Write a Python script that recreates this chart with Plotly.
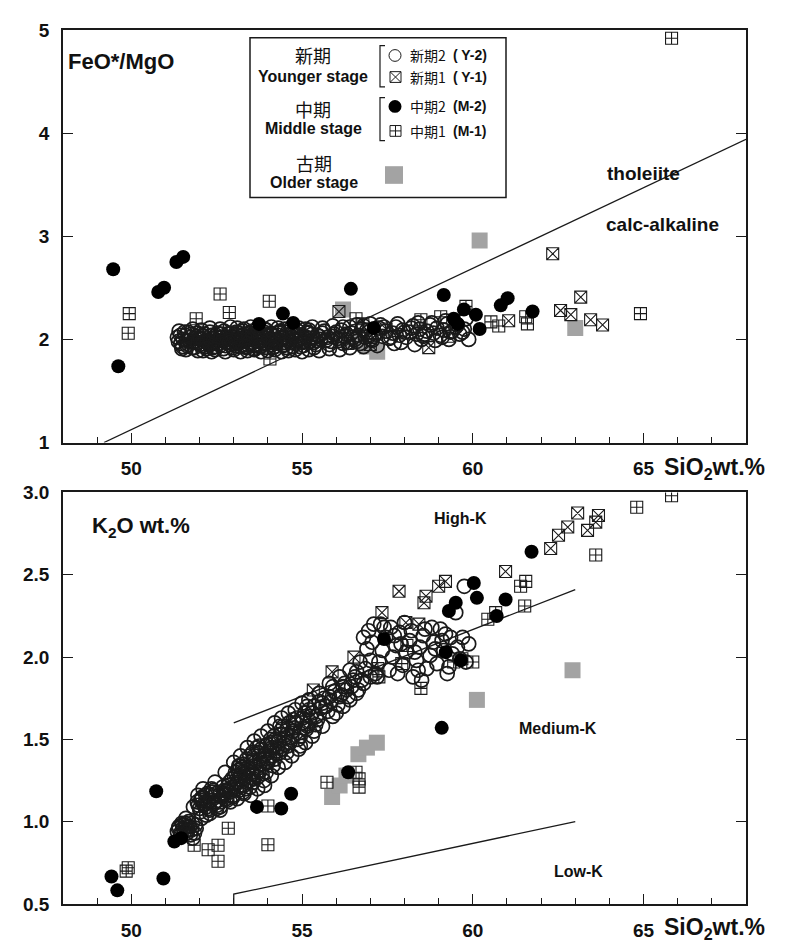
import plotly.graph_objects as go

# ---------------- DATA ----------------
# Younger stage 2 (Y-2), open circles: same samples in both panels
Y2_SIO2 = [51.35, 51.40, 51.45, 51.52, 51.58, 51.63, 51.70, 51.76, 51.82, 51.88,
           51.93, 52.00, 52.05, 52.12, 52.18, 52.25, 52.30, 52.36, 52.42, 52.48,
           52.55, 52.60, 52.66, 52.72, 52.78, 52.84, 52.90, 52.95, 53.00, 53.05,
           53.10, 53.15, 53.20, 53.25, 53.30, 53.35, 53.40, 53.45, 53.50, 53.55,
           53.60, 53.65, 53.70, 53.75, 53.80, 53.86, 53.92, 53.98, 54.05, 54.12,
           54.18, 54.25, 54.32, 54.40, 54.48, 54.55, 54.62, 54.70, 54.78, 54.85,
           54.92, 55.00, 55.08, 55.16, 55.25, 55.35, 55.45, 55.55, 55.65, 55.75,
           55.85, 55.95, 56.05, 56.15, 56.25, 56.35, 56.45, 56.55, 56.65, 56.75,
           56.85, 56.95, 57.05, 57.15, 57.25, 57.35, 57.45, 57.55, 57.65, 57.75,
           57.85, 57.95, 58.05, 58.15, 58.25, 58.35, 58.45, 58.55, 58.65, 58.75,
           58.85, 58.95, 59.05, 59.15, 59.25, 59.35, 59.50, 59.62, 59.75, 59.88,
           51.48, 51.66, 51.85, 52.03, 52.20, 52.38, 52.52, 52.70, 52.82, 52.98,
           53.08, 53.18, 53.28, 53.38, 53.48, 53.58, 53.68, 53.78, 53.88, 53.96,
           54.08, 54.20, 54.35, 54.45, 54.58, 54.72, 54.88, 55.05, 55.20, 55.40,
           55.60, 55.80, 56.00, 56.20, 56.40, 56.60, 56.80, 57.00, 57.30, 57.60,
           57.90, 58.20, 58.50, 58.80, 59.10, 59.40,
           51.38, 51.44, 51.50, 51.56, 51.61, 51.68, 51.73, 51.79, 51.90, 51.96,
           52.02, 52.08, 52.15, 52.22, 52.28, 52.34, 52.40, 52.46, 52.50, 52.57,
           52.63, 52.68, 52.75, 52.80, 52.87, 52.92, 52.97, 53.02, 53.07, 53.12,
           53.17, 53.22, 53.27, 53.32, 53.37, 53.42, 53.47, 53.52, 53.57, 53.62,
           53.67, 53.72, 53.77, 53.83, 53.89, 53.94, 54.00, 54.06, 54.10, 54.15,
           54.22, 54.28, 54.36, 54.42, 54.50, 54.58, 54.65, 54.75, 54.82, 54.95,
           55.02, 55.12, 55.22, 55.30, 55.42, 55.50, 55.70, 55.90, 56.10, 56.30,
           56.50, 56.70, 56.90, 57.10, 57.20, 57.40, 57.70, 57.80, 58.00, 58.30,
           58.40, 58.60, 58.90, 59.20, 59.30, 59.55, 59.70, 59.80,
           52.10, 52.30, 52.45, 52.60, 52.75, 52.90, 53.00, 53.10, 53.20, 53.30,
           53.40, 53.50, 53.60, 53.70, 53.80, 53.90, 54.00, 54.10, 54.20, 54.30,
           54.40, 54.50, 54.60, 54.70, 54.80, 54.90, 55.00, 55.10, 55.20, 55.30,
           55.50, 55.60, 55.80, 55.90, 56.10, 56.20, 56.40, 56.60, 56.80, 57.00,
           51.60, 51.80, 51.95, 52.05, 52.20, 52.35, 53.15, 53.35, 53.55, 53.75,
           53.95, 54.15, 54.35, 54.55, 54.75, 54.95, 55.15, 55.35]
Y2_FEO_MGO = [2.02, 2.08, 1.96, 2.00, 2.04, 1.94, 1.99, 2.05, 1.97, 2.01,
              2.06, 1.95, 2.00, 2.03, 1.93, 1.98, 2.07, 2.01, 1.96, 2.04,
              1.99, 1.94, 2.02, 2.08, 1.97, 2.00, 1.95, 2.03, 1.99, 2.05,
              1.96, 2.01, 1.93, 2.04, 1.98, 2.02, 1.95, 2.06, 2.00, 1.97,
              2.03, 1.94, 2.01, 2.07, 1.98, 2.02, 1.96, 2.04, 2.00, 1.95,
              2.03, 1.98, 2.06, 2.01, 1.97, 2.04, 1.99, 2.02, 1.96, 2.05,
              2.00, 2.03, 1.98, 2.06, 2.01, 1.97, 2.04, 2.00, 2.08, 2.02,
              1.98, 2.05, 2.01, 2.09, 2.03, 1.97, 2.06, 2.00, 2.04, 2.10,
              2.02, 2.07, 1.99, 2.05, 2.11, 2.03, 2.08, 2.01, 2.06, 2.12,
              2.04, 2.09, 2.02, 2.07, 2.13, 2.05, 2.10, 2.03, 2.08, 2.14,
              2.06, 2.11, 2.04, 2.09, 2.15, 2.07, 2.12, 2.05, 2.10, 2.00,
              1.91, 2.07, 1.92, 2.05, 1.97, 1.92, 2.06, 1.91, 2.05, 1.92,
              2.07, 1.98, 2.08, 1.92, 2.03, 1.91, 2.05, 1.93, 2.07, 1.92,
              2.06, 1.93, 2.08, 1.94, 2.07, 1.93, 2.08, 1.94, 2.09, 1.95,
              2.06, 1.95, 2.07, 1.96, 2.12, 1.98, 2.13, 2.00, 2.14, 2.02,
              1.97, 2.11, 2.00, 2.16, 2.02, 2.08,
              1.98, 2.04, 1.93, 2.07, 1.99, 1.95, 2.02, 1.92, 2.03, 1.97,
              2.01, 1.94, 2.05, 1.99, 1.95, 2.04, 1.98, 1.93, 2.02, 1.96,
              2.05, 1.99, 1.94, 2.02, 1.97, 2.06, 1.96, 2.02, 1.94, 2.04,
              1.97, 2.00, 1.95, 2.05, 1.99, 2.03, 1.96, 2.01, 1.94, 2.05,
              1.98, 2.02, 1.95, 2.04, 1.99, 1.96, 2.03, 1.97, 2.05, 2.00,
              1.96, 2.04, 1.99, 2.02, 1.95, 2.01, 1.97, 2.05, 1.99, 2.04,
              1.97, 2.02, 1.98, 2.05, 1.99, 2.03, 1.99, 2.03, 1.99, 2.05,
              2.02, 1.96, 2.09, 2.03, 1.94, 2.12, 1.96, 2.15, 2.07, 1.95,
              2.16, 2.05, 1.99, 2.18, 2.00, 2.14, 2.07, 2.20,
              1.89, 2.11, 1.90, 2.10, 1.88, 2.12, 1.90, 2.11, 1.88, 2.10,
              1.89, 2.12, 1.90, 2.11, 1.88, 2.10, 1.89, 2.12, 1.90, 2.11,
              1.88, 2.10, 1.89, 2.12, 1.90, 2.11, 1.88, 2.10, 1.90, 2.12,
              1.89, 2.11, 1.91, 2.13, 1.90, 2.12, 1.92, 2.14, 1.93, 2.15,
              1.90, 2.10, 1.89, 2.09, 1.91, 1.88, 2.06, 1.93, 2.08, 1.93,
              2.09, 1.92, 2.07, 1.92, 2.08, 1.93, 2.07, 1.92]
Y2_K2O = [0.94, 0.97, 0.92, 0.96, 0.99, 0.93, 0.97, 0.95, 1.09, 0.98,
          1.12, 1.08, 1.14, 1.10, 1.16, 1.12, 1.07, 1.15, 1.11, 1.17,
          1.13, 1.09, 1.15, 1.19, 1.14, 1.22, 1.18, 1.26, 1.21, 1.30,
          1.24, 1.19, 1.28, 1.33, 1.22, 1.27, 1.31, 1.25, 1.36, 1.29,
          1.40, 1.33, 1.27, 1.38, 1.44, 1.35, 1.41, 1.47, 1.39, 1.45,
          1.52, 1.43, 1.49, 1.56, 1.47, 1.53, 1.60, 1.51, 1.57, 1.63,
          1.54, 1.60, 1.66, 1.58, 1.64, 1.70, 1.62, 1.69, 1.75, 1.67,
          1.73, 1.79, 1.71, 1.77, 1.84, 1.76, 1.82, 1.88, 1.80, 1.86,
          1.93, 2.16, 2.09, 1.90, 1.97, 2.04, 2.12, 1.92, 2.00, 2.07,
          2.15, 1.95, 2.03, 2.10, 1.88, 1.98, 2.06, 2.13, 1.93, 2.01,
          2.09, 1.96, 2.17, 2.04, 1.90, 2.12, 2.27, 1.99, 2.43, 2.08,
          0.99, 0.95, 0.93, 1.13, 1.09, 1.18, 1.10, 1.16, 1.19, 1.15,
          1.20, 1.34, 1.18, 1.38, 1.21, 1.26, 1.45, 1.31, 1.25, 1.36,
          1.50, 1.38, 1.42, 1.58, 1.46, 1.55, 1.50, 1.57, 1.68, 1.59,
          1.72, 1.76, 1.66, 1.82, 1.74, 1.91, 1.84, 1.98, 2.20, 2.18,
          2.08, 2.16, 1.86, 2.18, 2.10, 2.02,
          0.96, 0.93, 0.98, 0.94, 0.97, 1.00, 0.92, 0.99, 0.96, 1.10,
          1.06, 1.15, 1.11, 1.17, 1.08, 1.13, 1.19, 1.12, 1.08, 1.16,
          1.12, 1.21, 1.17, 1.13, 1.24, 1.20, 1.16, 1.27, 1.23, 1.31,
          1.26, 1.22, 1.35, 1.29, 1.24, 1.33, 1.40, 1.30, 1.24, 1.36,
          1.30, 1.42, 1.35, 1.29, 1.40, 1.46, 1.36, 1.43, 1.48, 1.40,
          1.50, 1.45, 1.53, 1.44, 1.51, 1.57, 1.48, 1.55, 1.60, 1.52,
          1.63, 1.56, 1.61, 1.66, 1.64, 1.73, 1.70, 1.82, 1.76, 1.80,
          1.86, 1.97, 2.05, 2.20, 1.88, 2.18, 2.13, 1.90, 2.21, 2.03,
          1.92, 2.17, 2.05, 2.14, 1.94, 2.06, 2.12, 1.97,
          1.20, 1.05, 1.24, 1.07, 1.30, 1.12, 1.36, 1.14, 1.40, 1.17,
          1.45, 1.16, 1.49, 1.20, 1.52, 1.22, 1.55, 1.28, 1.60, 1.33,
          1.63, 1.36, 1.66, 1.40, 1.68, 1.44, 1.72, 1.48, 1.74, 1.52,
          1.78, 1.58, 1.84, 1.64, 1.88, 1.70, 1.92, 1.78, 2.12, 1.88,
          1.02, 0.90, 1.16, 1.02, 1.04, 1.20, 1.34, 1.20, 1.42, 1.46,
          1.30, 1.34, 1.58, 1.42, 1.62, 1.46, 1.70, 1.55]

# Younger stage 1 (Y-1), square with x
Y1_SIO2_TOP = [56.08, 56.35, 57.00, 57.46, 58.71, 59.30, 61.05, 62.34, 62.57, 62.87,
               63.16, 63.45, 63.80]
Y1_FEO_MGO = [2.27, 1.96, 1.95, 2.10, 1.92, 2.03, 2.18, 2.83, 2.28, 2.24,
              2.41, 2.19, 2.14]
Y1_SIO2_BOT = [55.33, 55.88, 56.52, 57.34, 57.84, 58.04, 58.42, 58.57, 58.63, 59.00,
               59.20, 60.96, 62.28, 62.51, 62.78, 63.07, 63.36, 63.60, 63.68]
Y1_K2O = [1.80, 1.91, 2.00, 2.27, 2.40, 2.21, 2.20, 2.33, 2.37, 2.43,
          2.46, 2.52, 2.66, 2.74, 2.79, 2.875, 2.77, 2.82, 2.86]

# Middle stage 2 (M-2), filled circles
M2_SIO2_TOP = [49.47, 49.62, 50.79, 50.96, 51.32, 51.52, 53.74, 54.44, 54.74, 56.43,
               57.10, 59.15, 59.44, 59.56, 59.74, 60.09, 60.20, 60.82, 61.02, 61.75]
M2_FEO_MGO = [2.68, 1.74, 2.46, 2.50, 2.75, 2.80, 2.15, 2.25, 2.16, 2.49,
              2.11, 2.43, 2.20, 2.15, 2.29, 2.24, 2.10, 2.33, 2.40, 2.27]
M2_SIO2_BOT = [49.42, 49.59, 50.73, 50.94, 51.26, 51.46, 53.68, 54.39, 54.68, 56.35,
               57.40, 59.09, 59.21, 59.30, 59.50, 59.65, 60.03, 60.12, 60.70, 60.96,
               61.72]
M2_K2O = [0.667, 0.583, 1.185, 0.655, 0.88, 0.90, 1.09, 1.08, 1.17, 1.30,
          2.11, 1.57, 2.03, 2.28, 2.33, 1.98, 2.45, 2.36, 2.25, 2.35,
          2.64]

# Middle stage 1 (M-1), square with cross
M1_SIO2_TOP = [49.91, 49.94, 51.90, 52.60, 52.87, 54.04, 54.06, 56.58, 56.78, 58.48,
               59.06, 59.80, 60.53, 60.76, 61.55, 61.60, 64.91, 65.82]
M1_FEO_MGO = [2.06, 2.25, 2.20, 2.44, 2.26, 2.37, 1.81, 2.20, 2.15, 2.19,
              2.22, 2.32, 2.17, 2.13, 2.22, 2.15, 2.25, 4.92]
M1_SIO2_BOT = [49.85, 49.91, 51.84, 52.25, 52.54, 52.54, 52.84, 54.00, 54.00, 55.73,
               56.58, 56.67, 56.67, 57.22, 57.25, 57.92, 58.07, 58.48, 59.44, 59.68,
               60.00, 60.44, 60.67, 61.40, 61.52, 61.55, 63.60, 64.80, 65.82]
M1_K2O = [0.70, 0.72, 0.857, 0.83, 0.857, 0.76, 0.96, 1.095, 0.86, 1.24,
          1.30, 1.26, 1.21, 1.93, 1.88, 1.96, 2.07, 1.81, 1.97, 1.99,
          1.97, 2.23, 2.27, 2.43, 2.31, 2.46, 2.62, 2.91, 2.98]

# Older stage, grey squares
OLD_SIO2_TOP = [56.20, 56.50, 56.90, 57.20, 60.20, 63.00]
OLD_FEO_MGO = [2.29, 2.00, 1.93, 1.88, 2.96, 2.11]
OLD_SIO2_BOT = [55.88, 56.10, 56.30, 56.65, 56.90, 57.19, 60.12, 62.92]
OLD_K2O = [1.15, 1.22, 1.28, 1.41, 1.45, 1.48, 1.74, 1.92]

# Boundary lines
THOL_X = [49.2, 68.0]
THOL_Y = [1.0, 3.94]
HIGHK_X = [53.0, 63.0]
HIGHK_Y = [1.6, 2.41]
LOWK_X = [53.0, 53.0, 63.0]
LOWK_Y = [0.5, 0.56, 1.0]

X_TICKS = [50, 55, 60, 65]

# ---------------- FIGURE ----------------
W, H = 786, 945
L, R, T, B = 55, 738, 14, 906


def px(x):
    return (x - L) / (R - L)


def py(y):
    return (B - y) / (B - T)


FONT = "Liberation Sans, Arial, Helvetica, sans-serif"
CJK = "Noto Sans CJK JP, Noto Sans CJK SC, sans-serif"
INK = "#1a1a1a"
GREY = "#a3a3a3"

fig = go.Figure()

MK = dict(
    old=dict(symbol="square", size=16, color=GREY, line=dict(width=0)),
    y2=dict(symbol="circle-open", size=14, color=INK, line=dict(width=1.7, color=INK)),
    y1=dict(symbol="square-x-open", size=12, color=INK, line=dict(width=1.1, color=INK)),
    m1=dict(symbol="square-cross-open", size=12, color=INK, line=dict(width=1.1, color=INK)),
    m2=dict(symbol="circle", size=14, color="black", line=dict(width=0)),
)


def add_panel(xa, ya, old, y2, y1, m1, m2):
    for (xs, ys), key in [(old, "old"), (y2, "y2"), (y1, "y1"), (m1, "m1"), (m2, "m2")]:
        fig.add_trace(go.Scatter(x=xs, y=ys, mode="markers", marker=MK[key],
                                 xaxis=xa, yaxis=ya, showlegend=False, hoverinfo="x+y"))


# top panel
fig.add_trace(go.Scatter(x=THOL_X, y=THOL_Y, mode="lines", line=dict(color=INK, width=1.3),
                         xaxis="x", yaxis="y", showlegend=False))
add_panel("x", "y",
          (OLD_SIO2_TOP, OLD_FEO_MGO), (Y2_SIO2, Y2_FEO_MGO), (Y1_SIO2_TOP, Y1_FEO_MGO),
          (M1_SIO2_TOP, M1_FEO_MGO), (M2_SIO2_TOP, M2_FEO_MGO))

# bottom panel
for lx, ly in [(HIGHK_X, HIGHK_Y), (LOWK_X, LOWK_Y)]:
    fig.add_trace(go.Scatter(x=lx, y=ly, mode="lines", line=dict(color=INK, width=1.3),
                             xaxis="x2", yaxis="y2", showlegend=False))
add_panel("x2", "y2",
          (OLD_SIO2_BOT, OLD_K2O), (Y2_SIO2, Y2_K2O), (Y1_SIO2_BOT, Y1_K2O),
          (M1_SIO2_BOT, M1_K2O), (M2_SIO2_BOT, M2_K2O))

tickfont = dict(family=FONT, size=19, color="#111", weight="bold")
xcommon = dict(range=[48, 68], tickvals=X_TICKS, ticks="inside", ticklen=10, tickwidth=1.2,
               tickcolor=INK, showline=True, linecolor=INK, linewidth=1.6, mirror=True,
               showgrid=False, zeroline=False, tickfont=tickfont, ticklabelstandoff=8,
               minor=dict(dtick=1, tick0=48, ticks="inside", ticklen=6, tickcolor=INK, tickwidth=1))
ycommon = dict(ticks="inside", ticklen=10, tickwidth=1.2, tickcolor=INK, showline=True,
               linecolor=INK, linewidth=1.6, mirror="ticks", showgrid=False, zeroline=False,
               tickfont=tickfont, ticklabelstandoff=8)

top_dom = [py(435), 1.0]
bot_dom = [0.0, py(486)]

fig.update_layout(
    width=W, height=H,
    margin=dict(l=L, r=W - R, t=T, b=H - B),
    paper_bgcolor="white", plot_bgcolor="white",
    xaxis=dict(domain=[0, 1], anchor="y", **xcommon),
    yaxis=dict(domain=top_dom, anchor="x", range=[1, 5], dtick=1, **ycommon),
    xaxis2=dict(domain=[0, 1], anchor="y2", **xcommon),
    yaxis2=dict(domain=bot_dom, anchor="x2", range=[0.5, 3.0], dtick=0.5, tickformat=".1f", **ycommon),
    showlegend=False,
)

ann = []


def text(x, y, s, size, fam=FONT, bold=True, anchor="center"):
    ann.append(dict(x=px(x), y=py(y), xref="paper", yref="paper", text=s, showarrow=False,
                    xanchor=anchor, yanchor="middle",
                    font=dict(family=fam, size=size, color="#111", weight="bold" if bold else "normal")))


text(113, 46, "FeO*/MgO", 22)
text(635, 160, "tholeiite", 19)
text(654, 212, "calc-alkaline", 19)
text(82, 521, "K<sub>2</sub>O wt.%", 22, anchor="left")
text(452, 513, "High-K", 16)
text(550, 727, "Medium-K", 16)
text(570, 873, "Low-K", 16)
text(654, 462, "SiO<sub>2</sub>wt.%", 23, anchor="left")
text(654, 931, "SiO<sub>2</sub>wt.%", 23, anchor="left")

# legend contents
text(305, 40, "新期", 18, fam=CJK, bold=False)
text(305, 61, "Younger stage", 16)
text(305, 95, "中期", 18, fam=CJK, bold=False)
text(305, 115, "Middle stage", 16)
text(306, 150, "古期", 18, fam=CJK, bold=False)
text(306, 170, "Older stage", 16)
for yy, cj, lab in [(40, "新期2", "( Y-2)"), (62, "新期1", "( Y-1)"),
                    (92, "中期2", "(M-2)"), (117, "中期1", "(M-1)")]:
    text(400, yy, cj, 14, fam=CJK, bold=False, anchor="left")
    text(443, yy, lab, 14, anchor="left")

LN = dict(color=INK, width=1)


def pline(x0, y0, x1, y1, width=1):
    return dict(type="line", xref="paper", yref="paper", x0=px(x0), y0=py(y0), x1=px(x1), y1=py(y1),
                line=dict(color=INK, width=width))


shapes = [
    dict(type="rect", xref="paper", yref="paper", x0=px(242), x1=px(498), y0=py(185), y1=py(22),
         line=dict(color=INK, width=1.5), fillcolor="white", layer="below"),
    # grey square (older stage)
    dict(type="rect", xref="paper", yref="paper", x0=px(377), x1=px(395), y0=py(171), y1=py(153),
         line=dict(width=0), fillcolor=GREY),
    # open circle (Y-2)
    dict(type="circle", xref="paper", yref="paper", x0=px(381), x1=px(393), y0=py(46), y1=py(34),
         line=LN),
    # filled circle (M-2)
    dict(type="circle", xref="paper", yref="paper", x0=px(380.5), x1=px(393.5), y0=py(98.5), y1=py(85.5),
         line=dict(width=0), fillcolor="black"),
    # square with x (Y-1)
    dict(type="rect", xref="paper", yref="paper", x0=px(382), x1=px(393), y0=py(67.5), y1=py(56.5),
         line=LN),
    pline(382, 56.5, 393, 67.5), pline(382, 67.5, 393, 56.5),
    # square with cross (M-1)
    dict(type="rect", xref="paper", yref="paper", x0=px(382), x1=px(393), y0=py(122.5), y1=py(111.5),
         line=LN),
    pline(387.5, 111.5, 387.5, 122.5), pline(382, 117, 393, 117),
]
for y0, y1 in [(30, 72), (83, 127)]:
    path = (f"M {px(377)} {py(y0)} L {px(372)} {py(y0)} L {px(372)} {py(y1)} L {px(377)} {py(y1)}")
    shapes.append(dict(type="path", xref="paper", yref="paper", path=path,
                       line=dict(color=INK, width=1.2)))

fig.update_layout(annotations=ann, shapes=shapes)

fig.write_html("out.html")
